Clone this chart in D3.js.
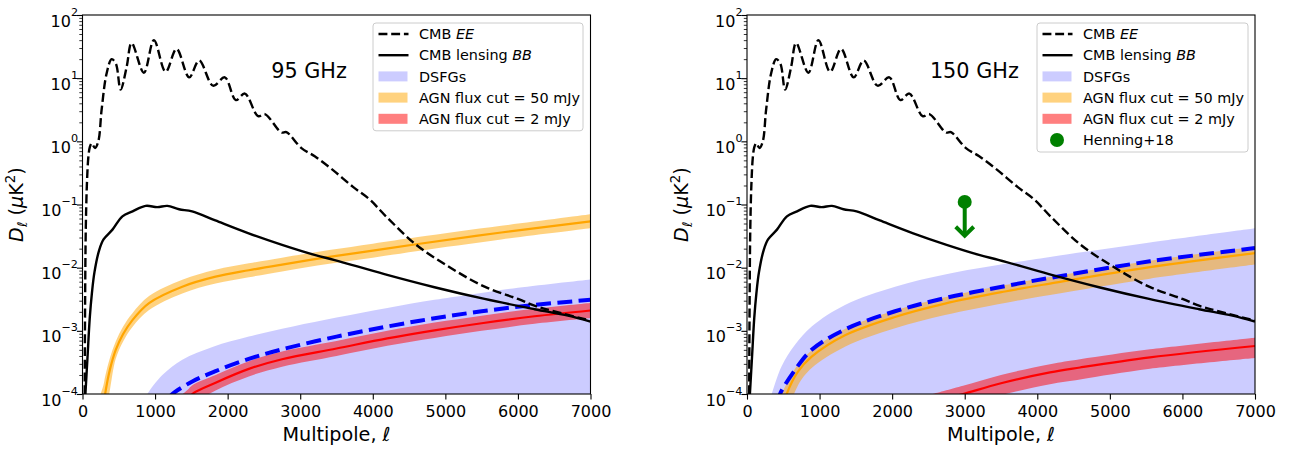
<!DOCTYPE html>
<html>
<head>
<meta charset="utf-8">
<script src="https://cdn.jsdelivr.net/npm/d3@7"></script>
<style>
  body { margin: 0; background: #fff; }
  svg { font-family: "DejaVu Sans", sans-serif; }
</style>
</head>
<body>
<div id="chart"></div>
<script>
// ---------- values ----------
const xTicks = [0, 1000, 2000, 3000, 4000, 5000, 6000, 7000];
const yDecades = [-4, -3, -2, -1, 0, 1, 2];
const yMinorMantissas = [2, 3, 4, 5, 6, 7, 8, 9];

// CMB EE (dashed black), same in both panels
const eeEll = [30, 36, 45, 60, 80, 100, 126, 172, 218, 264, 333, 402, 460, 525, 608, 677, 846, 984, 1145, 1296, 1470, 1608, 1800, 1961, 2113, 2237, 2420, 2512, 2741, 2810, 3017, 3200, 3452, 3727, 3957, 4187, 4600, 5081, 5540, 6000, 6228, 6457, 7000];
const eeD = [1.0e-4, 3.0e-3, 4.0e-2, 0.2, 0.55, 0.8, 0.93, 0.78, 1.0, 3.2, 12, 20, 17, 6.6, 15, 36, 12.2, 40, 12.6, 29, 10.3, 19, 7.6, 10.3, 4.5, 5.7, 2.5, 2.7, 1.38, 1.4, 0.78, 0.58, 0.35, 0.19, 0.12, 0.064, 0.0229, 0.0098, 0.0050, 0.0032, 0.0025, 0.0021, 0.00145];

// CMB lensing BB (solid black)
const bbEll = [40, 70, 100, 130, 165, 230, 290, 413, 550, 690, 870, 1030, 1170, 1330, 1510, 1830, 2290, 2750, 3210, 3475, 4160, 4850, 5540, 6230, 6690, 7000];
const bbD = [1.0e-4, 4.0e-4, 1.6e-3, 4.0e-3, 8.5e-3, 1.9e-2, 2.8e-2, 4.0e-2, 6.5e-2, 7.8e-2, 9.5e-2, 9.1e-2, 9.5e-2, 8.4e-2, 7.8e-2, 5.6e-2, 3.5e-2, 2.3e-2, 1.58e-2, 1.32e-2, 7.9e-3, 4.9e-3, 3.2e-3, 2.2e-3, 1.74e-3, 1.4e-3];

// 95 GHz: DSFG band upper edge and DSFG model (blue dashed)
const dsfg95EdgeEll = [850, 894, 1100, 1375, 1800, 2292, 2900, 3500, 4200, 4850, 5310, 6000, 7000];
const dsfg95EdgeD = [7.6e-5, 1.0e-4, 2.0e-4, 3.5e-4, 5.6e-4, 8.1e-4, 1.17e-3, 1.62e-3, 2.3e-3, 3.1e-3, 3.7e-3, 4.8e-3, 6.5e-3];
const dsfg95LineEll = [1200, 1238, 1513, 1834, 2292, 2750, 3500, 4200, 4850, 5500, 6228, 7000];
const dsfg95LineD = [8.9e-5, 1.0e-4, 1.58e-4, 2.3e-4, 3.6e-4, 5.1e-4, 8.1e-4, 1.17e-3, 1.58e-3, 2.04e-3, 2.57e-3, 3.1e-3];

// 95 GHz: AGN 50 mJy
const agn50_95Ell = [250, 290, 312, 380, 458, 560, 688, 917, 1375, 1834, 2292, 2750, 3400, 4000, 4622, 5770, 7000];
const agn50_95Mid = [3.0e-5, 6.3e-5, 1.0e-4, 2.5e-4, 5.0e-4, 8.9e-4, 1.48e-3, 2.75e-3, 5.0e-3, 7.2e-3, 9.1e-3, 1.12e-2, 1.48e-2, 1.86e-2, 2.37e-2, 3.6e-2, 5.4e-2];
const agn50_95Hi = [1.0e-4, 1.4e-4, 1.9e-4, 3.8e-4, 6.8e-4, 1.17e-3, 1.9e-3, 3.55e-3, 6.45e-3, 9.3e-3, 1.17e-2, 1.44e-2, 1.9e-2, 2.4e-2, 3.05e-2, 4.6e-2, 7.0e-2];
const agn50_95Lo = [1.0e-5, 2.5e-5, 4.0e-5, 1.2e-4, 3.6e-4, 6.8e-4, 1.15e-3, 2.13e-3, 3.9e-3, 5.6e-3, 7.05e-3, 8.7e-3, 1.15e-2, 1.44e-2, 1.84e-2, 2.8e-2, 4.2e-2];

// 95 GHz: AGN 2 mJy
const agn2_95Ell = [1380, 1450, 1513, 1834, 2292, 2750, 3500, 4200, 4850, 5500, 6228, 7000];
const agn2_95Mid = [6.3e-5, 7.9e-5, 1.0e-4, 1.51e-4, 2.5e-4, 3.55e-4, 5.25e-4, 7.6e-4, 1.02e-3, 1.32e-3, 1.7e-3, 2.1e-3];
const agn2_95Hi = [1.0e-4, 1.17e-4, 1.38e-4, 2.0e-4, 3.3e-4, 4.7e-4, 6.9e-4, 1.0e-3, 1.35e-3, 1.74e-3, 2.24e-3, 2.77e-3];
const agn2_95Lo = [3.6e-5, 4.8e-5, 6.6e-5, 1.14e-4, 1.9e-4, 2.7e-4, 4.0e-4, 5.8e-4, 7.7e-4, 1.0e-3, 1.29e-3, 1.59e-3];

// 150 GHz: DSFG
const dsfg150EdgeEll = [300, 340, 477, 661, 891, 1350, 2040, 2728, 3555, 4175, 5550, 7000];
const dsfg150EdgeD = [7.1e-5, 1.0e-4, 2.75e-4, 6.0e-4, 1.17e-3, 2.57e-3, 5.0e-3, 7.8e-3, 1.15e-2, 1.48e-2, 2.5e-2, 4.2e-2];
const dsfg150LineEll = [420, 455, 661, 891, 1350, 2040, 2728, 3555, 4175, 5553, 7000];
const dsfg150LineD = [7.1e-5, 1.0e-4, 2.4e-4, 5.0e-4, 1.05e-3, 2.04e-3, 3.3e-3, 5.1e-3, 6.9e-3, 1.26e-2, 2.04e-2];

// 150 GHz: AGN 50 mJy
const agn50_150Ell = [480, 510, 547, 700, 891, 1350, 2040, 2728, 3555, 4175, 5553, 7000];
const agn50_150Mid = [5.0e-5, 7.1e-5, 1.0e-4, 2.24e-4, 3.9e-4, 8.5e-4, 1.66e-3, 2.7e-3, 4.2e-3, 5.6e-3, 1.02e-2, 1.7e-2];
const agn50_150Hi = [1.0e-4, 1.2e-4, 1.45e-4, 2.9e-4, 4.9e-4, 1.07e-3, 2.1e-3, 3.4e-3, 5.3e-3, 7.1e-3, 1.29e-2, 2.14e-2];
const agn50_150Lo = [2.0e-5, 3.0e-5, 4.5e-5, 1.35e-4, 2.57e-4, 5.6e-4, 1.1e-3, 1.78e-3, 2.77e-3, 3.7e-3, 6.7e-3, 1.12e-2];

// 150 GHz: AGN 2 mJy
const agn2_150Ell = [2560, 2977, 3500, 4175, 4589, 5553, 7000];
const agn2_150Mid = [7.4e-5, 1.0e-4, 1.48e-4, 2.2e-4, 2.63e-4, 3.8e-4, 5.75e-4];
const agn2_150Hi = [1.0e-4, 1.35e-4, 2.0e-4, 2.97e-4, 3.55e-4, 5.1e-4, 7.8e-4];
const agn2_150Lo = [4.8e-5, 6.5e-5, 9.6e-5, 1.43e-4, 1.7e-4, 2.5e-4, 3.7e-4];

// Henning+18 upper limit at 150 GHz
const henningEll = 3000;
const henningD = 0.11;
const henningLimit = 0.032;

// ---------- layout ----------
const width = 1289, height = 449;
const plotW = 508;
const yTop = 15, yBottom = 394;
const fontTick = 16, fontLegend = 14.4, fontLabel = 19.2, fontTitle = 20.8;
const smooth = d3.curveCatmullRom.alpha(0.5);

const panels = [
  { left: 82.5, title: "95 GHz", titleEll: 2600,
    dsfgEdge: [dsfg95EdgeEll, dsfg95EdgeD], dsfgLine: [dsfg95LineEll, dsfg95LineD],
    agn50: [agn50_95Ell, agn50_95Lo, agn50_95Mid, agn50_95Hi],
    agn2: [agn2_95Ell, agn2_95Lo, agn2_95Mid, agn2_95Hi],
    henning: false, legend: { x: 373, y: 23, w: 210 } },
  { left: 747, title: "150 GHz", titleEll: 2520,
    dsfgEdge: [dsfg150EdgeEll, dsfg150EdgeD], dsfgLine: [dsfg150LineEll, dsfg150LineD],
    agn50: [agn50_150Ell, agn50_150Lo, agn50_150Mid, agn50_150Hi],
    agn2: [agn2_150Ell, agn2_150Lo, agn2_150Mid, agn2_150Hi],
    henning: true, legend: { x: 1037, y: 23, w: 211 } }
];

const svg = d3.select("#chart").append("svg")
    .attr("width", width)
    .attr("height", height)
    .attr("viewBox", [0, 0, width, height]);
const defs = svg.append("defs");

panels.forEach((p, i) => {
  const x = d3.scaleLinear([0, 7000], [p.left, p.left + plotW]);
  const y = d3.scaleLog([1e-4, 1e2], [yBottom, yTop]);

  defs.append("clipPath").attr("id", "clip" + i)
    .append("rect")
      .attr("x", x(0)).attr("y", yTop)
      .attr("width", plotW).attr("height", yBottom - yTop);

  const g = svg.append("g").attr("clip-path", `url(#clip${i})`);

  const line = (ell, d) => d3.line()
      .curve(smooth)
      .x((l) => x(l))
      .y((l, k) => y(d[k]))(ell);
  const band = (ell, lo, hi) => d3.area()
      .curve(smooth)
      .x((l) => x(l))
      .y0((l, k) => y(lo[k]))
      .y1((l, k) => y(hi[k]))(ell);

  // DSFG band, filled down past the bottom of the axes
  const [dEll, dEdge] = p.dsfgEdge;
  g.append("path")
      .attr("d", d3.area().curve(smooth)
        .x((l) => x(l)).y0(yBottom + 5).y1((l, k) => y(dEdge[k]))(dEll))
      .attr("fill", "blue").attr("fill-opacity", 0.2);

  // AGN bands
  g.append("path").attr("d", band(p.agn50[0], p.agn50[1], p.agn50[3]))
      .attr("fill", "orange").attr("fill-opacity", 0.5);
  g.append("path").attr("d", band(p.agn2[0], p.agn2[1], p.agn2[3]))
      .attr("fill", "red").attr("fill-opacity", 0.5);

  // model lines
  g.append("path").attr("d", line(p.agn50[0], p.agn50[2]))
      .attr("fill", "none").attr("stroke", "orange").attr("stroke-width", 2.2);
  g.append("path").attr("d", line(p.agn2[0], p.agn2[2]))
      .attr("fill", "none").attr("stroke", "red").attr("stroke-width", 2.2);
  g.append("path").attr("d", line(p.dsfgLine[0], p.dsfgLine[1]))
      .attr("fill", "none").attr("stroke", "blue").attr("stroke-width", 4)
      .attr("stroke-dasharray", "14.8,6.4");

  // CMB spectra
  g.append("path").attr("d", line(eeEll, eeD))
      .attr("fill", "none").attr("stroke", "black").attr("stroke-width", 2.4)
      .attr("stroke-dasharray", "8.9,3.8");
  g.append("path").attr("d", line(bbEll, bbD))
      .attr("fill", "none").attr("stroke", "black").attr("stroke-width", 2.4);

  // Henning+18 upper limit
  if (p.henning) {
    const hx = x(henningEll), hy = y(henningD), ht = y(henningLimit);
    svg.append("line")
        .attr("x1", hx).attr("x2", hx).attr("y1", hy).attr("y2", ht - 1)
        .attr("stroke", "green").attr("stroke-width", 4);
    svg.append("path")
        .attr("d", `M${hx - 9},${ht - 9}L${hx},${ht}L${hx + 9},${ht - 9}`)
        .attr("fill", "none").attr("stroke", "green").attr("stroke-width", 4);
    svg.append("circle").attr("cx", hx).attr("cy", hy).attr("r", 7).attr("fill", "green");
  }

  // x axis
  const gx = svg.append("g")
      .attr("transform", `translate(0,${yBottom})`)
      .call(d3.axisBottom(x).tickValues(xTicks).tickSize(5.6).tickPadding(5.6).tickFormat(d3.format("d")))
      .attr("font-family", "DejaVu Sans").attr("font-size", fontTick);
  gx.select(".domain").remove();
  gx.selectAll(".tick line").attr("stroke", "#000").attr("stroke-width", 1.1);
  gx.selectAll(".tick text").attr("fill", "#000");

  // y axis: major and minor ticks
  const majors = yDecades.map((e) => Math.pow(10, e));
  const minors = yDecades.slice(0, -1).flatMap((e) => yMinorMantissas.map((m) => m * Math.pow(10, e)));
  const gy = svg.append("g")
      .attr("transform", `translate(${x(0)},0)`)
      .call(d3.axisLeft(y).tickValues(majors).tickSize(5.6).tickFormat(""));
  gy.select(".domain").remove();
  gy.selectAll(".tick line").attr("stroke", "#000").attr("stroke-width", 1.1);
  const gyMinor = svg.append("g")
      .attr("transform", `translate(${x(0)},0)`)
      .call(d3.axisLeft(y).tickValues(minors).tickSize(3.2).tickFormat(""));
  gyMinor.select(".domain").remove();
  gyMinor.selectAll(".tick line").attr("stroke", "#000").attr("stroke-width", 0.8);

  yDecades.forEach((e) => {
    const t = svg.append("text")
        .attr("x", x(0) - 4.5)
        .attr("y", y(Math.pow(10, e)) + 11.5)
        .attr("text-anchor", "end")
        .attr("font-size", fontTick);
    t.append("tspan").text("10");
    t.append("tspan").attr("dy", -11).attr("font-size", 11.2)
        .text(e < 0 ? "\u2212" + (-e) : String(e));
  });

  // frame
  svg.append("rect")
      .attr("x", x(0)).attr("y", yTop)
      .attr("width", plotW).attr("height", yBottom - yTop)
      .attr("fill", "none").attr("stroke", "#000").attr("stroke-width", 1.1);

  // axis labels
  svg.append("text")
      .attr("x", x(3500)).attr("y", 441)
      .attr("text-anchor", "middle").attr("font-size", fontLabel)
      .call((t) => {
        t.append("tspan").text("Multipole, ");
        t.append("tspan").attr("font-style", "italic").text("\u2113");
      });
  const yl = svg.append("text")
      .attr("transform", `translate(${x(0) - 59.5},${(yTop + yBottom) / 2}) rotate(-90)`)
      .attr("text-anchor", "middle").attr("font-size", fontLabel);
  yl.append("tspan").attr("font-style", "italic").text("D");
  yl.append("tspan").attr("font-style", "italic").attr("font-size", 13.4).attr("dy", 4).text("\u2113");
  yl.append("tspan").attr("dy", -4).text(" (");
  yl.append("tspan").attr("font-style", "italic").text("\u03bc");
  yl.append("tspan").text("K");
  yl.append("tspan").attr("font-size", 13.4).attr("dy", -8).text("2");
  yl.append("tspan").attr("dy", 8).text(")");

  // frequency label
  svg.append("text")
      .attr("x", x(p.titleEll)).attr("y", y(10))
      .attr("font-size", fontTitle)
      .text(p.title);

  // legend
  const entries = [
    { type: "dash", label: ["CMB ", "EE"] },
    { type: "line", label: ["CMB lensing ", "BB"] },
    { type: "patch", color: "blue", op: 0.2, label: ["DSFGs"] },
    { type: "patch", color: "orange", op: 0.5, label: ["AGN flux cut = 50 mJy"] },
    { type: "patch", color: "red", op: 0.5, label: ["AGN flux cut = 2 mJy"] }
  ];
  if (p.henning) entries.push({ type: "dot", label: ["Henning+18"] });

  const L = p.legend;
  const rowH = 21.2;
  const lg = svg.append("g");
  lg.append("rect")
      .attr("x", L.x).attr("y", L.y)
      .attr("width", L.w).attr("height", 11 + rowH * (entries.length - 1) + 12)
      .attr("rx", 3)
      .attr("fill", "white").attr("fill-opacity", 0.8)
      .attr("stroke", "#cccccc").attr("stroke-width", 1);
  entries.forEach((en, k) => {
    const cy = L.y + 11 + k * rowH;
    const hx = L.x + 5.5;
    if (en.type === "dash" || en.type === "line") {
      lg.append("line")
          .attr("x1", hx).attr("x2", hx + 30).attr("y1", cy).attr("y2", cy)
          .attr("stroke", "black").attr("stroke-width", 2.4)
          .attr("stroke-dasharray", en.type === "dash" ? "8.9,3.8" : null);
    } else if (en.type === "patch") {
      lg.append("rect")
          .attr("x", hx).attr("y", cy - 5).attr("width", 29).attr("height", 10)
          .attr("fill", en.color).attr("fill-opacity", en.op);
    } else {
      lg.append("circle").attr("cx", hx + 14.5).attr("cy", cy).attr("r", 7).attr("fill", "green");
    }
    const t = lg.append("text")
        .attr("x", hx + 40.5).attr("y", cy + 5.2)
        .attr("font-size", fontLegend);
    t.append("tspan").text(en.label[0]);
    if (en.label[1]) t.append("tspan").attr("font-style", "italic").text(en.label[1]);
  });
});
</script>
</body>
</html>
